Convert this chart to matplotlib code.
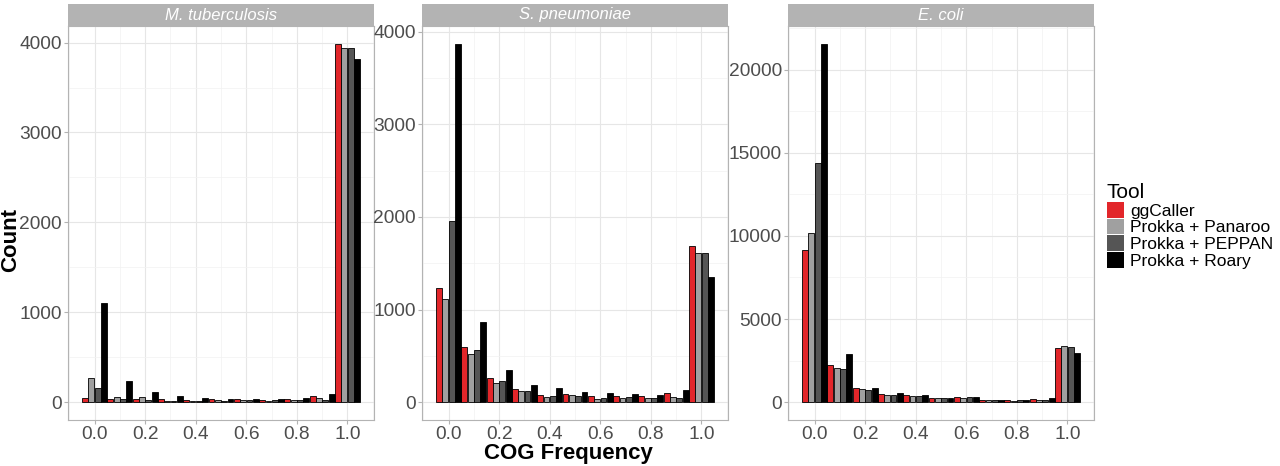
import numpy as np
import matplotlib
matplotlib.use("Agg")
import matplotlib.pyplot as plt
from matplotlib.patches import Patch
from matplotlib.ticker import MultipleLocator

plt.rcParams['font.family'] = ['Liberation Sans', 'DejaVu Sans']

# COG frequency bins (centres) and tools
bins = [0.0, 0.1, 0.2, 0.3, 0.4, 0.5, 0.6, 0.7, 0.8, 0.9, 1.0]
tools = ["ggCaller", "Prokka + Panaroo", "Prokka + PEPPAN", "Prokka + Roary"]
colores = ["#E2262A", "#A0A0A0", "#555555", "#000000"]
especies = ["M. tuberculosis", "S. pneumoniae", "E. coli"]

# counts per bin, one list per tool
mtb_ggcaller = [48, 33, 37, 30, 22, 30, 30, 22, 33, 70, 3985]
mtb_panaroo = [266, 59, 52, 11, 7, 18, 26, 15, 18, 41, 3934]
mtb_peppan = [155, 30, 26, 15, 7, 15, 26, 22, 26, 26, 3934]
mtb_roary = [1100, 230, 111, 63, 44, 30, 30, 33, 48, 85, 3815]

spn_ggcaller = [1230, 593, 262, 140, 79, 86, 61, 61, 61, 97, 1682]
spn_panaroo = [1110, 521, 201, 119, 50, 75, 32, 40, 40, 57, 1606]
spn_peppan = [1962, 561, 223, 115, 65, 68, 43, 54, 47, 43, 1606]
spn_roary = [3870, 862, 352, 180, 147, 108, 97, 86, 72, 126, 1348]

eco_ggcaller = [9160, 2220, 840, 500, 440, 260, 300, 140, 140, 200, 3280]
eco_panaroo = [10180, 2040, 760, 420, 340, 220, 240, 120, 80, 140, 3360]
eco_peppan = [14370, 1980, 720, 400, 380, 220, 280, 120, 100, 140, 3320]
eco_roary = [21560, 2900, 860, 540, 420, 260, 280, 120, 140, 240, 2960]

datos = [
    [mtb_ggcaller, mtb_panaroo, mtb_peppan, mtb_roary],
    [spn_ggcaller, spn_panaroo, spn_peppan, spn_roary],
    [eco_ggcaller, eco_panaroo, eco_peppan, eco_roary],
]
y_pasos = [1000, 1000, 5000]

fig = plt.figure(figsize=(12.8, 4.66), dpi=100)
izq = [68, 422, 788]
ancho_px = 306
gris_texto = "#4D4D4D"

ancho = 0.1 / 4
x = np.array(bins)
for i, (nombre, series) in enumerate(zip(especies, datos)):
    ax = fig.add_axes([izq[i] / 1280, 46 / 466, ancho_px / 1280, 394 / 466])
    for j, (serie, c) in enumerate(zip(series, colores)):
        ax.bar(x - 0.05 + ancho * (j + 0.5), serie, width=ancho * 0.92,
               color=c, edgecolor="black", linewidth=0.6, zorder=3)
    ymax = max(max(s) for s in series)
    ax.set_ylim(-0.05 * ymax, 1.05 * ymax)
    ax.set_xlim(-0.105, 1.105)
    ax.xaxis.set_major_locator(MultipleLocator(0.2))
    ax.xaxis.set_minor_locator(MultipleLocator(0.1))
    ax.yaxis.set_major_locator(MultipleLocator(y_pasos[i]))
    ax.yaxis.set_minor_locator(MultipleLocator(y_pasos[i] / 2))
    ax.set_xticks(np.arange(0, 1.01, 0.2))
    ax.set_xticklabels([f"{v:.1f}" for v in np.arange(0, 1.01, 0.2)])
    ax.grid(which="major", color="#E6E6E6", linewidth=0.8, zorder=0)
    ax.grid(which="minor", color="#F2F2F2", linewidth=0.5, zorder=0)
    ax.tick_params(which="major", length=3, color="#B3B3B3", labelsize=13.8,
                   labelcolor=gris_texto, pad=1.5)
    ax.tick_params(axis="x", which="major", pad=1.5)
    ax.tick_params(which="minor", length=0)
    for s in ax.spines.values():
        s.set_color("#B3B3B3")
        s.set_linewidth(0.8)
    # franja del panel
    tira = fig.add_axes([izq[i] / 1280, 440 / 466, ancho_px / 1280, 22 / 466])
    tira.set_facecolor("#B3B3B3")
    tira.set_xticks([])
    tira.set_yticks([])
    for s in tira.spines.values():
        s.set_visible(False)
    tira.text(0.5, 0.5, nombre, color="white", style="italic", fontsize=12,
              ha="center", va="center", transform=tira.transAxes)

fig.text(11 / 1280, 226 / 466, "Count", rotation=90, fontsize=16,
         fontweight="bold", ha="center", va="center")
fig.text(568 / 1280, 12 / 466, "COG Frequency", fontsize=16,
         fontweight="bold", ha="center", va="center")

handles = [Patch(facecolor=c, edgecolor="none") for c in colores]
leg = fig.legend(handles, tools, loc="center left",
                 bbox_to_anchor=(1100 / 1280, 240 / 466),
                 frameon=False, fontsize=12.5, title="Tool", title_fontsize=15,
                 handlelength=1.0, handleheight=1.0, labelspacing=0.0,
                 handletextpad=0.35, alignment="left", borderaxespad=0)

fig.savefig("out.png", dpi=100)
